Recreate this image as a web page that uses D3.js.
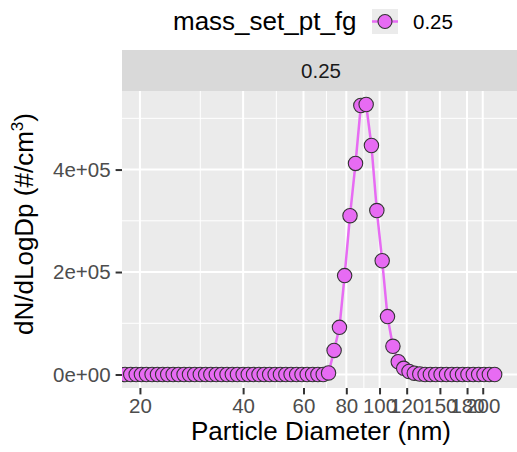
<!DOCTYPE html>
<html>
<head>
<meta charset="utf-8">
<script src="https://cdn.jsdelivr.net/npm/d3@7"></script>
<style>
  html, body { margin: 0; padding: 0; background: #fff; }
  svg { display: block; }
  text { font-family: "Liberation Sans", Arial, sans-serif; }
</style>
</head>
<body>
<svg id="chart" width="517" height="452"></svg>
<script>
// ---- data ----
const diameters = [17.5, 18.1, 18.8, 19.5, 20.2, 20.9, 21.7, 22.5, 23.3, 24.1, 25.0, 25.9, 26.9, 27.9, 28.9,
  30.0, 31.1, 32.2, 33.4, 34.6, 35.9, 37.2, 38.5, 40.0, 41.4, 42.9, 44.5, 46.1, 47.8, 49.6, 51.4, 53.3,
  55.2, 57.3, 59.4, 61.5, 63.8, 66.1, 68.5, 71.0, 73.7, 76.4, 79.1, 82.0, 85.1, 88.2, 91.4, 94.7, 98.2,
  101.8, 105.5, 109.4, 113.4, 117.6, 121.9, 126.3, 131.0, 135.8, 140.7, 145.9, 151.2, 156.8, 162.5,
  168.5, 174.7, 181.1, 187.7, 194.6, 201.7, 209.1, 216.7];
const dNdlogDp = [0, 0, 0, 0, 0, 0, 0, 0, 0, 0, 0, 0, 0, 0, 0,
  0, 0, 0, 0, 0, 0, 0, 0, 0, 0, 0, 0, 0, 0, 0, 0, 0,
  0, 0, 0, 0, 0, 0, 0, 3000, 47000, 92000, 193000, 310000, 412000, 525000, 527000, 447000, 320000,
  222000, 113000, 55000, 25000, 12000, 6000, 2500, 1000, 0, 0, 0, 0, 0, 0,
  0, 0, 0, 0, 0, 0, 0, 0];
const seriesName = "0.25";
const legendTitle = "mass_set_pt_fg";
const xTicks = [20, 40, 60, 80, 100, 120, 150, 180, 200];
const xMinor = [30, 50, 70, 90];
const yTicks = [0, 200000, 400000];
const yMinor = [100000, 300000, 500000];
const xLimits = [17.73, 256.9];

const data = diameters.map((d, i) => ({ d, v: dNdlogDp[i] }));

// ---- layout ----
const P = { left: 122, right: 520, top: 91, bottom: 388 };
const col = "#E76BF3";
const svg = d3.select("#chart");

const x = d3.scaleLog().domain(xLimits).range([P.left, P.right]);
const vmax = d3.max(dNdlogDp);
const y = d3.scaleLinear().domain([-0.05 * vmax, vmax * 1.05]).range([P.bottom, P.top]);

// legend
const lg = svg.append("g");
lg.append("text").attr("x", 173).attr("y", 30).attr("font-size", 26).attr("fill", "#000").text(legendTitle);
lg.append("rect").attr("x", 372).attr("y", 9).attr("width", 26).attr("height", 25).attr("fill", "#EBEBEB");
lg.append("line").attr("x1", 372).attr("x2", 398).attr("y1", 21.5).attr("y2", 21.5)
  .attr("stroke", col).attr("stroke-width", 2.5);
lg.append("circle").attr("cx", 385).attr("cy", 21.5).attr("r", 7)
  .attr("fill", col).attr("stroke", "#333").attr("stroke-width", 1.1);
lg.append("text").attr("x", 413).attr("y", 29).attr("font-size", 20.5).attr("fill", "#000").text(seriesName);

// strip
svg.append("rect").attr("x", P.left).attr("y", 50).attr("width", P.right - P.left).attr("height", P.top - 50)
  .attr("fill", "#D9D9D9");
svg.append("text").attr("x", (P.left + P.right) / 2).attr("y", 78).attr("text-anchor", "middle")
  .attr("font-size", 20.5).attr("fill", "#1A1A1A").text(seriesName);

// panel
svg.append("rect").attr("x", P.left).attr("y", P.top).attr("width", P.right - P.left).attr("height", P.bottom - P.top)
  .attr("fill", "#EBEBEB");

svg.append("defs").append("clipPath").attr("id", "clip")
  .append("rect").attr("x", P.left).attr("y", P.top).attr("width", P.right - P.left).attr("height", P.bottom - P.top);

const grid = svg.append("g");
grid.selectAll(".xm").data(xMinor).join("line")
  .attr("x1", d => x(d)).attr("x2", d => x(d)).attr("y1", P.top).attr("y2", P.bottom)
  .attr("stroke", "#fff").attr("stroke-width", 1);
grid.selectAll(".ym").data(yMinor).join("line")
  .attr("y1", d => y(d)).attr("y2", d => y(d)).attr("x1", P.left).attr("x2", P.right)
  .attr("stroke", "#fff").attr("stroke-width", 1);
grid.selectAll(".xM").data(xTicks).join("line")
  .attr("x1", d => x(d)).attr("x2", d => x(d)).attr("y1", P.top).attr("y2", P.bottom)
  .attr("stroke", "#fff").attr("stroke-width", 2);
grid.selectAll(".yM").data(yTicks).join("line")
  .attr("y1", d => y(d)).attr("y2", d => y(d)).attr("x1", P.left).attr("x2", P.right)
  .attr("stroke", "#fff").attr("stroke-width", 2);

// marks
const marks = svg.append("g").attr("clip-path", "url(#clip)");
marks.append("path").datum(data)
  .attr("d", d3.line().x(d => x(d.d)).y(d => y(d.v)))
  .attr("fill", "none").attr("stroke", col).attr("stroke-width", 2.5);
marks.selectAll("circle").data(data).join("circle")
  .attr("cx", d => x(d.d)).attr("cy", d => y(d.v)).attr("r", 7.2)
  .attr("fill", col).attr("stroke", "#333").attr("stroke-width", 1.1);

// axes
const xAxis = svg.append("g").attr("transform", `translate(0,${P.bottom})`)
  .call(d3.axisBottom(x).tickValues(xTicks).tickFormat(d3.format("d")).tickSize(6.4).tickPadding(4.5));
const yAxis = svg.append("g").attr("transform", `translate(${P.left},0)`)
  .call(d3.axisLeft(y).tickValues(yTicks).tickFormat(d => d3.format(".0e")(d).replace(/e([+-])(\d)$/, "e$10$2")).tickSize(6.4).tickPadding(5));
[xAxis, yAxis].forEach(a => {
  a.select(".domain").remove();
  a.selectAll(".tick line").attr("stroke", "#333").attr("stroke-width", 2);
  a.selectAll(".tick text").attr("fill", "#4D4D4D").attr("font-size", 20.5)
    .attr("font-family", "'Liberation Sans', Arial, sans-serif");
});

// axis titles
svg.append("text").attr("x", (P.left + P.right) / 2).attr("y", 440).attr("text-anchor", "middle")
  .attr("font-size", 26).attr("fill", "#000").text("Particle Diameter (nm)");
const yt = svg.append("text").attr("transform", "translate(33,224) rotate(-90)").attr("text-anchor", "middle")
  .attr("font-size", 26).attr("fill", "#000");
yt.append("tspan").text("dN/dLogDp (#/cm");
yt.append("tspan").attr("font-size", 17).attr("dy", -10).text("3");
yt.append("tspan").attr("dy", 10).text(")");
</script>
</body>
</html>
